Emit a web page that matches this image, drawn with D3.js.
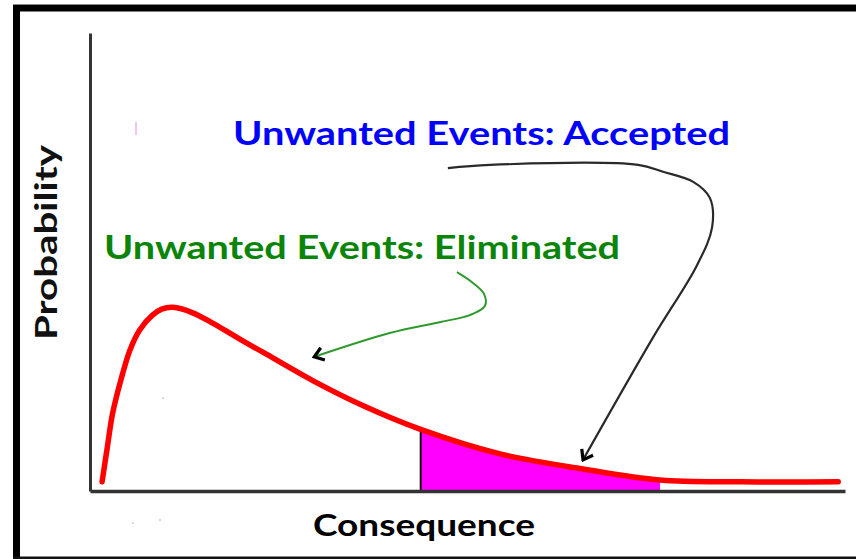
<!DOCTYPE html>
<html><head><meta charset="utf-8">
<script src="https://cdn.jsdelivr.net/npm/d3@7"></script>
<style>html,body{margin:0;padding:0;background:#fff;overflow:hidden}</style>
</head><body>
<svg id="c" width="856" height="559"></svg>
<script>
// Curve data (consequence vs probability, arbitrary units 0-100)
const consequence = [1.6, 2.3, 3.0, 4.2, 5.3, 6.6, 8.2, 9.5, 11.0, 13.6, 16.3, 19.9, 22.9, 29.5, 36.2, 43.7, 54.3, 65.3, 75.5, 86.1, 99.1];
const probability = [2.0, 9.6, 17.0, 24.9, 30.8, 35.2, 38.3, 39.7, 40.1, 38.9, 36.6, 33.1, 30.3, 24.1, 18.6, 13.5, 8.1, 4.8, 2.4, 2.0, 2.0];
// Accepted region (shaded) along consequence axis
const acceptedRange = [43.8, 75.5];
// Labels
const labels = ["Unwanted Events: Accepted", "Unwanted Events: Eliminated"];
const axisTitles = ["Consequence", "Probability"];
// Annotation arrows (data units)
const acceptedArrowX = [47.4, 53.0, 72.6, 75.9, 79.9, 82.1, 82.4, 80.4, 74.6, 65.3];
const acceptedArrowY = [70.5, 71.2, 71.2, 69.7, 67.5, 64.0, 57.6, 49.3, 33.6, 6.8];
const elimArrowX = [48.6, 50.6, 52.2, 52.3, 50.3, 46.4, 39.7, 29.7];
const elimArrowY = [47.8, 45.6, 43.0, 40.4, 38.4, 36.9, 34.5, 29.3];

const svg = d3.select("#c");
const x = d3.scaleLinear().domain([0, 100]).range([90, 845]);
const y = d3.scaleLinear().domain([0, 100]).range([491, 33]);

// Frame
svg.append("rect").attr("x", 13).attr("y", 4).attr("width", 843).attr("height", 1.2).attr("fill", "#888");
svg.append("rect").attr("x", 13).attr("y", 5).attr("width", 843).attr("height", 6.5).attr("fill", "#000");
svg.append("rect").attr("x", 13).attr("y", 5).attr("width", 7).attr("height", 554).attr("fill", "#000");
svg.append("rect").attr("x", 13).attr("y", 556.5).attr("width", 843).attr("height", 2.5).attr("fill", "#111");

const pts = consequence.map((c, i) => ({ c, p: probability[i] }));
const crv = d3.curveCatmullRom.alpha(0.5);

// Shaded accepted area, clipped to range
const defs = svg.append("defs");
defs.append("clipPath").attr("id", "accClip").append("rect")
  .attr("x", x(acceptedRange[0])).attr("y", 0)
  .attr("width", x(acceptedRange[1]) - x(acceptedRange[0])).attr("height", 559);
const areaGen = d3.area().x(d => x(d.c)).y0(y(0)).y1(d => y(d.p)).curve(crv);
defs.append("clipPath").attr("id", "underClip").append("path").attr("d", areaGen(pts));

svg.append("path").attr("d", areaGen(pts)).attr("fill", "#ff00ff").attr("clip-path", "url(#accClip)");

// Vertical cut line at start of accepted region, clipped under curve
svg.append("line")
  .attr("x1", x(acceptedRange[0])).attr("x2", x(acceptedRange[0]))
  .attr("y1", y(0)).attr("y2", y(100))
  .attr("stroke", "#111").attr("stroke-width", 2)
  .attr("clip-path", "url(#underClip)");

// Axes (no ticks)
svg.append("g").attr("transform", `translate(0,${y(0)})`)
  .call(d3.axisBottom(x).tickValues([]).tickSizeOuter(0))
  .select(".domain").attr("stroke", "#333").attr("stroke-width", 3.5);
svg.append("g").attr("transform", `translate(${x(0)},0)`)
  .call(d3.axisLeft(y).tickValues([]).tickSizeOuter(0))
  .select(".domain").attr("stroke", "#333").attr("stroke-width", 3);

// Curve
const lineGen = d3.line().x(d => x(d.c)).y(d => y(d.p)).curve(crv);
svg.append("path").attr("d", lineGen(pts)).attr("fill", "none")
  .attr("stroke", "#ff0000").attr("stroke-width", 5.5).attr("stroke-linecap", "round");

// Arrow markers
const mk = defs.append("marker").attr("id", "chev").attr("markerUnits", "userSpaceOnUse")
  .attr("viewBox", "-12 -8 14 16").attr("markerWidth", 14).attr("markerHeight", 16)
  .attr("refX", 0).attr("refY", 0).attr("orient", "auto");
mk.append("path").attr("d", "M-9,-6.5 L0,0 L-9,6.5").attr("fill", "none")
  .attr("stroke", "#000").attr("stroke-width", 3.2).attr("stroke-linejoin", "miter");

const annLine = d3.line().x(d => x(d[0])).y(d => y(d[1])).curve(d3.curveCatmullRom);
svg.append("path").attr("d", annLine(acceptedArrowX.map((v, i) => [v, acceptedArrowY[i]])))
  .attr("fill", "none").attr("stroke", "#2a2a2a").attr("stroke-width", 2.2)
  .attr("marker-end", "url(#chev)");
svg.append("path").attr("d", annLine(elimArrowX.map((v, i) => [v, elimArrowY[i]])))
  .attr("fill", "none").attr("stroke", "#2e9a2e").attr("stroke-width", 2)
  .attr("marker-end", "url(#chev)");

// Text
const font = "Lato, 'Open Sans', sans-serif";
svg.append("text").attr("x", 233).attr("y", 145).text(labels[0])
  .attr("font-family", font).attr("font-weight", 700).attr("font-size", 32)
  .attr("fill", "#0000ff").attr("textLength", 497).attr("lengthAdjust", "spacingAndGlyphs");
svg.append("text").attr("x", 104).attr("y", 259).text(labels[1])
  .attr("font-family", font).attr("font-weight", 700).attr("font-size", 33)
  .attr("fill", "#0a850a").attr("textLength", 516).attr("lengthAdjust", "spacingAndGlyphs");
svg.append("text").attr("x", 313).attr("y", 536).text(axisTitles[0])
  .attr("font-family", font).attr("font-weight", 700).attr("font-size", 30)
  .attr("fill", "#000").attr("textLength", 222).attr("lengthAdjust", "spacingAndGlyphs");
svg.append("text").attr("transform", "translate(57,340) rotate(-90)").text(axisTitles[1])
  .attr("font-family", font).attr("font-weight", 700).attr("font-size", 31)
  .attr("fill", "#111").attr("textLength", 195).attr("lengthAdjust", "spacingAndGlyphs");

// Small stray marks from the original
svg.append("line").attr("x1", 136).attr("x2", 136).attr("y1", 122).attr("y2", 135)
  .attr("stroke", "#f0b0f0").attr("stroke-width", 1.5);
[[163, 398], [133, 523], [160, 520]].forEach(p =>
  svg.append("circle").attr("cx", p[0]).attr("cy", p[1]).attr("r", 1).attr("fill", "#ccc"));
</script>
</body></html>
